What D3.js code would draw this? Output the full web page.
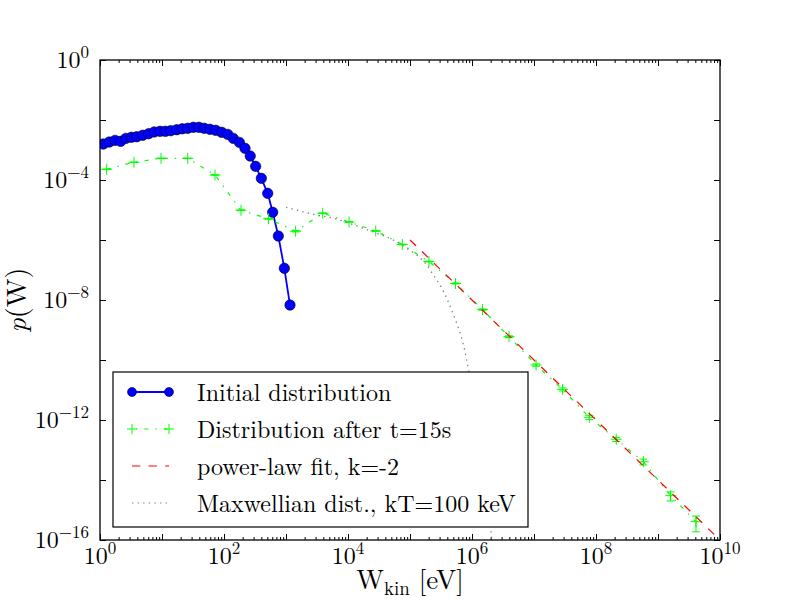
<!DOCTYPE html>
<html>
<head>
<meta charset="utf-8">
<script src="https://cdn.jsdelivr.net/npm/d3@7"></script>
<style>
body { margin: 0; background: #fff; }
svg { display: block; }
</style>
</head>
<body>
<svg width="800" height="600"></svg>
<script>
// DATA
var initialW = [1.13, 1.41, 1.75, 2.16, 2.62, 3.2, 3.91, 4.89, 6.1, 7.5, 9.3, 11.3, 13.8, 17.3, 21.2, 26,
    32, 39.5, 48, 59.4, 73.5, 91.8, 115, 141, 177, 218, 265, 324, 400, 507, 610, 752, 940, 1160];
var initialP = [1.58e-3, 1.85e-3, 2.1e-3, 1.95e-3, 2.45e-3, 2.65e-3, 2.77e-3, 3.1e-3, 3.5e-3, 4.0e-3,
    4.2e-3, 4.2e-3, 4.4e-3, 4.75e-3, 5.1e-3, 5.3e-3, 5.7e-3, 5.7e-3, 5.3e-3, 4.9e-3, 4.55e-3, 3.9e-3,
    3.33e-3, 2.45e-3, 1.8e-3, 1.14e-3, 6.3e-4, 2.86e-4, 1.14e-4, 3.6e-5, 8.4e-6, 1.36e-6, 1.14e-7, 6.8e-9];

var afterW = [1.28, 3.53, 9.64, 26.0, 71.6, 188, 522, 1430, 3910, 1.04e4, 2.8e4, 7.52e4, 2.02e5, 5.43e5,
    1.48e6, 3.95e6, 1.08e7, 2.9e7, 7.8e7, 2.12e8, 5.8e8, 1.6e9, 4.1e9];
var afterP = [2.28e-4, 3.9e-4, 5.28e-4, 5.28e-4, 1.47e-4, 9.8e-6, 5.1e-6, 1.96e-6, 7.8e-6, 4.0e-6, 2.0e-6,
    7.1e-7, 1.92e-7, 3.55e-8, 4.8e-9, 6.0e-10, 6.8e-11, 1.05e-11, 1.23e-12, 2.28e-13, 4.07e-14, 3.0e-15, 4.07e-16];
var afterErr = [2e-6, 3e-6, 4e-6, 4e-6, 2e-6, 3e-7, 2e-7, 1e-7, 2e-7, 1e-7, 5e-8, 2e-8, 6e-9, 1.3e-9,
    2.5e-10, 4e-11, 6e-12, 1.2e-12, 2e-13, 3.5e-14, 9e-15, 1.0e-15, 2.2e-16];

var fitW = [1e5, 1e10];
var fitP = [1e-6, 1e-16];

var maxwW = [1e3, 1.68e3, 2.75e3, 5.8e3, 9.5e3, 1.77e4, 3.28e4, 5.37e4, 8.85e4, 1.28e5, 1.86e5, 2.38e5,
    3.05e5, 3.91e5, 4.71e5, 5.66e5, 6.82e5, 7.71e5, 8.71e5, 1.2e6, 1.6e6, 2.09e6, 2.3e6];
var maxwP = [1.23e-5, 9.3e-6, 7.2e-6, 5.3e-6, 3.9e-6, 2.45e-6, 1.55e-6, 1.0e-6, 5.3e-7, 3.16e-7, 1.47e-7,
    6.8e-8, 3.16e-8, 1.14e-8, 4.6e-9, 1.67e-9, 5.3e-10, 1.9e-10, 5.3e-11, 1.6e-12, 3.2e-14, 1e-16, 1.3e-17];

var xMajorExp = [0, 1, 2, 3, 4, 5, 6, 7, 8, 9, 10];
var xLabelExp = [0, 2, 4, 6, 8, 10];
var yTickExp = [0, -2, -4, -6, -8, -10, -12, -14, -16];
var yLabelExp = [0, -4, -8, -12, -16];
var legendLabels = ["Initial distribution", "Distribution after t=15s", "power-law fit, k=-2",
    "Maxwellian dist., kT=100 keV"];

var color_blue = "#0000ff";
var color_green = "#00ff00";
var color_red = "#ff0000";
var color_gray = "#808080";
var font_serif = "'Latin Modern Roman', 'Liberation Serif', serif";

// SETUP
var margin = { top: 60, right: 80, bottom: 60, left: 100 },
    width = 800 - margin.left - margin.right,
    height = 600 - margin.top - margin.bottom;

var svg = d3.select("svg").style("font-family", font_serif);
var g = svg.append("g").attr("transform", "translate(" + margin.left + "," + margin.top + ")");

var x = d3.scaleLog().domain([1, 1e10]).range([0, width]),
    y = d3.scaleLog().domain([1e-16, 1]).range([height, 0]);

g.append("clipPath").attr("id", "clip")
    .append("rect").attr("width", width).attr("height", height);

var xMinor = [];
xMajorExp.slice(0, -1).forEach(function (e) {
    for (var m = 2; m < 10; m++) { xMinor.push(m * Math.pow(10, e)); }
});
var xMajor = xMajorExp.map(function (e) { return Math.pow(10, e); });
var yTicks = yTickExp.map(function (e) { return Math.pow(10, e); });

function sup(sel, exp) {
    sel.text(null);
    sel.append("tspan").text("10");
    sel.append("tspan").attr("dy", -10).style("font-size", "17px")
        .text(String(exp).replace("-", "\u2212"));
}

// inward ticks on all four sides
function tickAxis(axis, tr) {
    var a = g.append("g").attr("transform", tr).call(axis);
    a.select(".domain").remove();
    a.selectAll(".tick line").attr("stroke", "#000").attr("stroke-width", 1);
    a.selectAll(".tick text").remove();
    return a;
}
tickAxis(d3.axisBottom(x).tickValues(xMinor).tickSizeInner(-3).tickSizeOuter(0), "translate(0," + height + ")");
tickAxis(d3.axisTop(x).tickValues(xMinor).tickSizeInner(-3).tickSizeOuter(0), "translate(0,0)");
tickAxis(d3.axisBottom(x).tickValues(xMajor).tickSizeInner(-6).tickSizeOuter(0), "translate(0," + height + ")");
tickAxis(d3.axisTop(x).tickValues(xMajor).tickSizeInner(-6).tickSizeOuter(0), "translate(0,0)");
tickAxis(d3.axisLeft(y).tickValues(yTicks).tickSizeInner(-6).tickSizeOuter(0), "translate(0,0)");
tickAxis(d3.axisRight(y).tickValues(yTicks).tickSizeInner(-6).tickSizeOuter(0), "translate(" + width + ",0)");

// tick labels
g.selectAll(".xlab").data(xLabelExp).enter().append("text")
    .attr("class", "xlab")
    .style("font-family", font_serif)
    .style("font-size", "24px")
    .attr("x", function (d) { return x(Math.pow(10, d)); })
    .attr("y", height + 24)
    .attr("text-anchor", "middle")
    .each(function (d) { sup(d3.select(this), d); });

g.selectAll(".ylab").data(yLabelExp).enter().append("text")
    .attr("class", "ylab")
    .style("font-family", font_serif)
    .style("font-size", "24px")
    .attr("x", -11)
    .attr("y", function (d) { return y(Math.pow(10, d)) + 8; })
    .attr("text-anchor", "end")
    .each(function (d) { sup(d3.select(this), d); });

// axis titles
var xt = svg.append("text")
    .style("font-family", font_serif)
    .style("font-size", "27px")
    .attr("x", margin.left + width / 2)
    .attr("y", 589)
    .attr("text-anchor", "middle");
xt.append("tspan").text("W");
xt.append("tspan").attr("dy", 6).style("font-size", "19px").text("kin");
xt.append("tspan").attr("dy", -6).text(" [eV]");

var yt = svg.append("text")
    .style("font-family", font_serif)
    .style("font-size", "28px")
    .attr("transform", "translate(26," + (margin.top + height / 2) + ") rotate(-90)")
    .attr("text-anchor", "middle");
yt.append("tspan").style("font-style", "italic").text("p");
yt.append("tspan").text("(W)");

// DRAWING SERIES
var plot = g.append("g").attr("clip-path", "url(#clip)");
var line = d3.line()
    .x(function (d) { return x(d[0]); })
    .y(function (d) { return y(d[1]); });

function plus(sel, cx, cy, r, col) {
    sel.append("path")
        .attr("d", "M" + (cx - r) + "," + cy + "H" + (cx + r) + "M" + cx + "," + (cy - r) + "V" + (cy + r))
        .attr("stroke", col).attr("stroke-width", 1).attr("fill", "none");
}

// initial distribution
var initData = d3.zip(initialW, initialP);
plot.append("path").datum(initData)
    .attr("d", line)
    .attr("fill", "none").attr("stroke", color_blue).attr("stroke-width", 1.8);
plot.selectAll(".dot").data(initData).enter().append("circle")
    .attr("class", "dot")
    .attr("cx", function (d) { return x(d[0]); })
    .attr("cy", function (d) { return y(d[1]); })
    .attr("r", 5.2)
    .attr("fill", color_blue).attr("stroke", "#000").attr("stroke-width", 0.6);

// distribution after t=15s
var afterData = d3.zip(afterW, afterP, afterErr);
plot.append("path").datum(afterData)
    .attr("d", line)
    .attr("fill", "none").attr("stroke", color_green).attr("stroke-width", 1.2)
    .attr("stroke-dasharray", "4.2,6.9,1.4,6.9");
afterData.forEach(function (d) {
    var cx = x(d[0]), y0 = y(d[1] + d[2]), y1 = y(Math.max(d[1] - d[2], 1e-20));
    plot.append("path")
        .attr("d", "M" + cx + "," + y0 + "V" + y1 + "M" + (cx - 4) + "," + y0 + "H" + (cx + 4) +
            "M" + (cx - 4) + "," + y1 + "H" + (cx + 4))
        .attr("stroke", color_green).attr("stroke-width", 1).attr("fill", "none");
    plus(plot, cx, y(d[1]), 5.5, color_green);
});

// power-law fit
plot.append("path").datum(d3.zip(fitW, fitP))
    .attr("d", line)
    .attr("fill", "none").attr("stroke", color_red).attr("stroke-width", 1.2)
    .attr("stroke-dasharray", "8.3,8.3");

// maxwellian
plot.append("path").datum(d3.zip(maxwW, maxwP))
    .attr("d", line.curve(d3.curveMonotoneX))
    .attr("fill", "none").attr("stroke", color_gray).attr("stroke-width", 1.3)
    .attr("stroke-dasharray", "1.4,4.2");

// frame
g.append("rect").attr("width", width).attr("height", height)
    .attr("fill", "none").attr("stroke", "#000").attr("stroke-width", 1.3);

// LEGEND
var lg = svg.append("g").attr("transform", "translate(113,372)");
lg.append("rect").attr("width", 415).attr("height", 155)
    .attr("fill", "#fff").attr("stroke", "#000").attr("stroke-width", 1.2);
var rowY = function (i) { return 20 + i * 37; };
var hx0 = 19, hx1 = 56;
legendLabels.forEach(function (lab, i) {
    var ry = rowY(i);
    var h = lg.append("line").attr("x1", hx0).attr("x2", hx1).attr("y1", ry).attr("y2", ry)
        .attr("stroke-width", 1.2);
    if (i === 0) {
        h.attr("stroke", color_blue).attr("stroke-width", 1.8);
        [hx0, hx1].forEach(function (cx) {
            lg.append("circle").attr("cx", cx).attr("cy", ry).attr("r", 4.5)
                .attr("fill", color_blue).attr("stroke", "#000").attr("stroke-width", 0.6);
        });
    } else if (i === 1) {
        h.attr("stroke", color_green).attr("stroke-dasharray", "1.4,6.9,4.2,6.9")
            .attr("stroke-dashoffset", -4);
        [hx0, hx1].forEach(function (cx) { plus(lg, cx, ry, 5, color_green); });
    } else if (i === 2) {
        h.attr("stroke", color_red).attr("stroke-dasharray", "8.3,8.3");
    } else {
        h.attr("stroke", color_gray).attr("stroke-dasharray", "1.4,4.2");
    }
    lg.append("text").style("font-family", font_serif).style("font-size", "24px")
        .attr("x", 84).attr("y", ry + 9).text(lab);
});
</script>
</body>
</html>
